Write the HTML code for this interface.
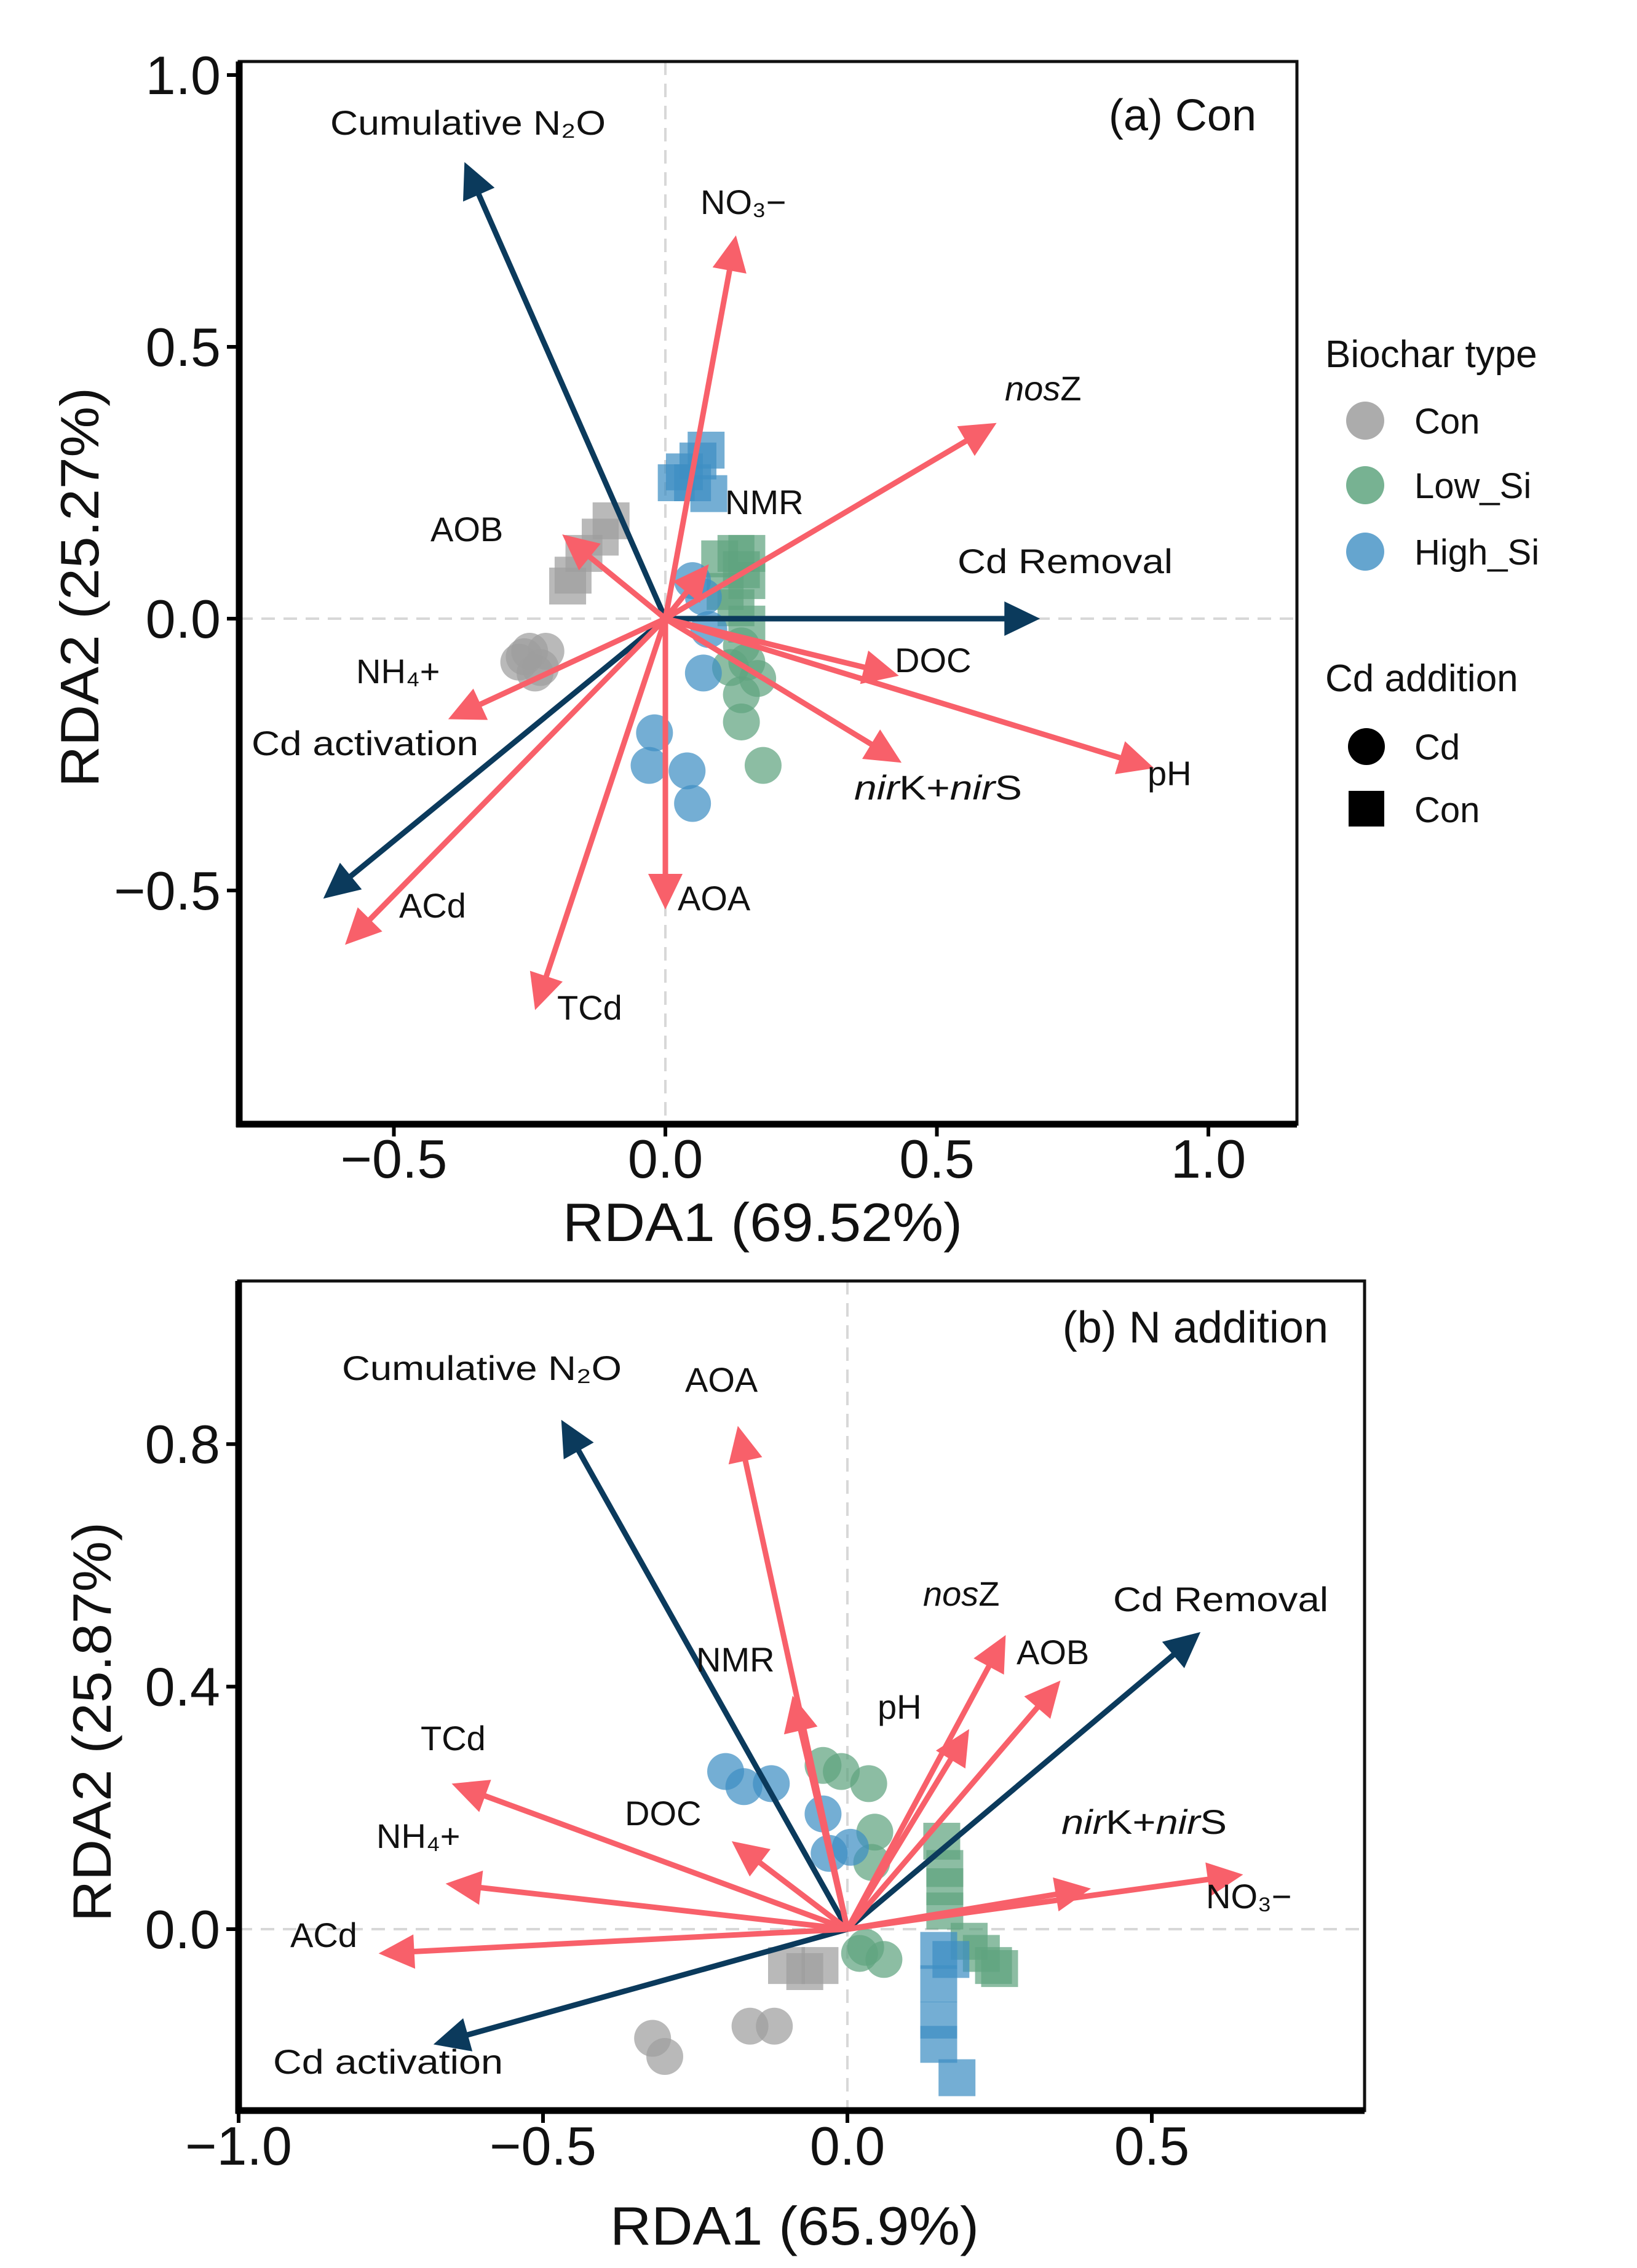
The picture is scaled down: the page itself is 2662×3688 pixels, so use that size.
<!DOCTYPE html>
<html><head><meta charset="utf-8"><style>
html,body{margin:0;padding:0;background:#fff}
svg{display:block}
text{font-family:"Liberation Sans",Arial,sans-serif;fill:#111}
</style></head><body>
<svg id="s" width="2662" height="3688" viewBox="0 0 2662 3688" xmlns="http://www.w3.org/2000/svg">
<g id="pa"></g>
<g id="pb"></g>
<g>
<text x="2155" y="597" font-size="62">Biochar type</text>
<circle cx="2220" cy="684" r="31" fill="#9e9e9e" opacity="0.85"/>
<text x="2300" y="705" font-size="58">Con</text>
<circle cx="2220" cy="789" r="31" fill="#5fa47f" opacity="0.85"/>
<text x="2300" y="810" font-size="58">Low_Si</text>
<circle cx="2220" cy="897" r="31" fill="#3f8fc3" opacity="0.8"/>
<text x="2300" y="918" font-size="58">High_Si</text>
<text x="2155" y="1124" font-size="62">Cd addition</text>
<circle cx="2222" cy="1214" r="30" fill="#000"/>
<text x="2300" y="1235" font-size="58">Cd</text>
<rect x="2193" y="1286" width="58" height="58" fill="#000"/>
<text x="2300" y="1337" font-size="58">Con</text>
</g>
</svg>
<script>
// ---- Panel A data ----
const aXTicks=[-0.5,0,0.5,1.0];
const aXTickLabels=["\u22120.5","0.0","0.5","1.0"];
const aYTicks=[1.0,0.5,0,-0.5];
const aYTickLabels=["1.0","0.5","0.0","\u22120.5"];
const aArrowNames=["Cumulative N2O","Cd Removal","Cd activation","NO3","nosZ","NMR","AOB","DOC","pH","nirK+nirS","AOA","TCd","ACd","NH4"];
const aArrowX=[-0.37,0.69,-0.63,0.13,0.61,0.08,-0.19,0.43,0.9,0.435,0,-0.24,-0.59,-0.4];
const aArrowY=[0.84,0,-0.515,0.705,0.36,0.1,0.155,-0.105,-0.275,-0.265,-0.535,-0.72,-0.6,-0.185];
const aArrowDark=[1,1,1,0,0,0,0,0,0,0,0,0,0,0];
const aGrayCircX=[-0.27,-0.25,-0.23,-0.26,-0.22,-0.24];
const aGrayCircY=[-0.08,-0.06,-0.09,-0.07,-0.06,-0.1];
const aGraySqX=[-0.1,-0.12,-0.15,-0.18,-0.17];
const aGraySqY=[0.18,0.15,0.12,0.06,0.08];
const aBlueSqX=[0.02,0.035,0.06,0.075,0.08,0.05];
const aBlueSqY=[0.25,0.27,0.29,0.31,0.23,0.25];
const aBlueCircX=[-0.02,-0.03,0.04,0.05,0.07,0.08,0.07,0.05];
const aBlueCircY=[-0.21,-0.27,-0.28,-0.34,-0.1,-0.02,0.04,0.07];
const aGreenSqX=[0.1,0.13,0.15,0.15,0.13,0.15,0.11,0.14];
const aGreenSqY=[0.11,0.12,0.12,0.07,0.02,-0.01,0.05,0.09];
const aGreenCircX=[0.14,0.15,0.17,0.14,0.14,0.18,0.12];
const aGreenCircY=[-0.05,-0.08,-0.11,-0.14,-0.19,-0.27,-0.09];
// ---- Panel B data ----
const bXTicks=[-1.0,-0.5,0,0.5];
const bXTickLabels=["\u22121.0","\u22120.5","0.0","0.5"];
const bYTicks=[0.8,0.4,0];
const bYTickLabels=["0.8","0.4","0.0"];
const bArrowNames=["Cumulative N2O","Cd Removal","Cd activation","AOA","nosZ","AOB","pH","NMR","TCd","NH4","DOC","ACd","nirK+nirS","NO3"];
const bArrowX=[-0.47,0.58,-0.68,-0.18,0.26,0.35,0.2,-0.09,-0.65,-0.66,-0.19,-0.77,0.4,0.65];
const bArrowY=[0.84,0.49,-0.19,0.83,0.485,0.41,0.33,0.385,0.24,0.075,0.145,-0.04,0.067,0.09];
const bArrowDark=[1,1,1,0,0,0,0,0,0,0,0,0,0,0];
const bBlueCircX=[-0.2,-0.17,-0.125,-0.04,-0.03,0.005];
const bBlueCircY=[0.26,0.235,0.24,0.19,0.125,0.135];
const bGreenCircX=[-0.04,-0.01,0.035,0.045,0.04,0.03,0.02,0.06];
const bGreenCircY=[0.27,0.26,0.24,0.16,0.11,-0.03,-0.04,-0.05];
const bGreenSqX=[0.155,0.16,0.16,0.16,0.2,0.22,0.24,0.25];
const bGreenSqY=[0.145,0.1,0.07,0.03,-0.02,-0.04,-0.06,-0.065];
const bBlueSqX=[0.15,0.17,0.15,0.15,0.15,0.18];
const bBlueSqY=[-0.035,-0.05,-0.09,-0.15,-0.19,-0.245];
const bGraySqX=[-0.1,-0.07,-0.045];
const bGraySqY=[-0.06,-0.07,-0.06];
const bGrayCircX=[-0.32,-0.3,-0.16,-0.12];
const bGrayCircY=[-0.18,-0.21,-0.16,-0.16];

const NS="http://www.w3.org/2000/svg";
function mk(p,tag,at){const e=document.createElementNS(NS,tag);for(const k in at)e.setAttribute(k,at[k]);p.appendChild(e);return e;}
const GRAY="#9e9e9e",GREEN="#5fa47f",BLUE="#3f8fc3",DARK="#0b3a5c",RED="#f8606a";

function panel(g,cfg){
  const sx=v=>cfg.ox+cfg.kx*v, sy=v=>cfg.oy-cfg.ky*v;
  const z1=mk(g,'line',{x1:cfg.L,x2:cfg.R,y1:sy(0),y2:sy(0),stroke:'#d8d8d8','stroke-width':4,'stroke-dasharray':'22 14'});
  
  
  const z2=mk(g,'line',{x1:sx(0),x2:sx(0),y1:cfg.T,y2:cfg.B,stroke:'#d8d8d8','stroke-width':4,'stroke-dasharray':'22 14'});
  
  
  const pts=[[cfg.sq1x,cfg.sq1y,GRAY,'sq','gray-square'],[cfg.c1x,cfg.c1y,GRAY,'c','gray-circle'],
    [cfg.sq2x,cfg.sq2y,GREEN,'sq','green-square'],[cfg.c2x,cfg.c2y,GREEN,'c','green-circle'],
    [cfg.sq3x,cfg.sq3y,BLUE,'sq','blue-square'],[cfg.c3x,cfg.c3y,BLUE,'c','blue-circle']];
  pts.forEach(([xs,ys,col,sh,nm])=>{
    xs.forEach((v,i)=>{
      let e;
      if(sh==='c') e=mk(g,'circle',{cx:sx(v),cy:sy(ys[i]),r:30,fill:col,opacity:0.72});
      else e=mk(g,'rect',{x:sx(v)-30,y:sy(ys[i])-30,width:60,height:60,fill:col,opacity:0.72});
      
      
    });
  });
  cfg.ax.forEach((v,i)=>{
    const col=cfg.dark[i]?DARK:RED;
    const x0=sx(0),y0=sy(0),x1=sx(v),y1=sy(cfg.ay[i]);
    const dx=x1-x0,dy=y1-y0,len=Math.hypot(dx,dy),ux=dx/len,uy=dy/len;
    const hl=58,hw=28;
    const bx=x1-ux*hl,by=y1-uy*hl;
    const ag=mk(g,'g',{});
    
    
    mk(ag,'line',{x1:x0,y1:y0,x2:bx+ux*4,y2:by+uy*4,stroke:col,'stroke-width':9});
    mk(ag,'polygon',{points:`${x1},${y1} ${bx-uy*hw},${by+ux*hw} ${bx+uy*hw},${by-ux*hw}`,fill:col});
  });
  const fr=mk(g,'rect',{x:cfg.L,y:cfg.T,width:cfg.R-cfg.L,height:cfg.B-cfg.T,fill:'none',stroke:'#111','stroke-width':5});
  
  
  mk(g,'line',{x1:cfg.L,x2:cfg.L,y1:cfg.T,y2:cfg.B+5,stroke:'#000','stroke-width':11});
  mk(g,'line',{x1:cfg.L-5,x2:cfg.R,y1:cfg.B,y2:cfg.B,stroke:'#000','stroke-width':11});
  cfg.xt.forEach((v,i)=>{
    mk(g,'line',{x1:sx(v),x2:sx(v),y1:cfg.B,y2:cfg.B+20,stroke:'#000','stroke-width':6});
    const t=mk(g,'text',{x:sx(v),y:cfg.xtY,'font-size':88,'text-anchor':'middle'});
    t.textContent=cfg.xtl[i];
    
    
  });
  cfg.yt.forEach((v,i)=>{
    mk(g,'line',{x1:cfg.L-20,x2:cfg.L,y1:sy(v),y2:sy(v),stroke:'#000','stroke-width':6});
    const t=mk(g,'text',{x:cfg.L-30,y:sy(v)+31,'font-size':88,'text-anchor':'end'});
    t.textContent=cfg.ytl[i];
    
    
  });
}
function lab(g,x,y,html,fs,tl,anchor,name){
  const t=mk(g,'text',{x:x,y:y,'font-size':fs});
  if(tl){t.setAttribute('textLength',tl);t.setAttribute('lengthAdjust','spacingAndGlyphs');}
  if(anchor) t.setAttribute('text-anchor',anchor);
  t.innerHTML=html;
  
  
  return t;
}
const pa=document.getElementById('pa'),pb=document.getElementById('pb');
panel(pa,{ox:1082,oy:1006,kx:883,ky:884,L:389,R:2109,T:100,B:1828,xt:aXTicks,xtl:aXTickLabels,yt:aYTicks,ytl:aYTickLabels,xtY:1915,
  names:aArrowNames,ax:aArrowX,ay:aArrowY,dark:aArrowDark,
  sq1x:aGraySqX,sq1y:aGraySqY,c1x:aGrayCircX,c1y:aGrayCircY,sq2x:aGreenSqX,sq2y:aGreenSqY,c2x:aGreenCircX,c2y:aGreenCircY,sq3x:aBlueSqX,sq3y:aBlueSqY,c3x:aBlueCircX,c3y:aBlueCircY});
panel(pb,{ox:1378,oy:3137,kx:990,ky:986,L:388,R:2219,T:2083,B:3432,xt:bXTicks,xtl:bXTickLabels,yt:bYTicks,ytl:bYTickLabels,xtY:3520,
  names:bArrowNames,ax:bArrowX,ay:bArrowY,dark:bArrowDark,
  sq1x:bGraySqX,sq1y:bGraySqY,c1x:bGrayCircX,c1y:bGrayCircY,sq2x:bGreenSqX,sq2y:bGreenSqY,c2x:bGreenCircX,c2y:bGreenCircY,sq3x:bBlueSqX,sq3y:bBlueSqY,c3x:bBlueCircX,c3y:bBlueCircY});
const FS=56;
lab(pa,2043,212,'(a) Con',72,null,'end','panel-a-title');
lab(pa,537,219,'Cumulative N₂O',FS,448,null,'label-cumulative-n2o');
lab(pa,1139,348,'NO₃−',FS,null,null,'label-no3');
lab(pa,1634,651,'<tspan font-style="italic">nos</tspan>Z',FS,null,null,'label-nosz');
lab(pa,1179,836,'NMR',FS,null,null,'label-nmr');
lab(pa,700,880,'AOB',FS,null,null,'label-aob');
lab(pa,1557,932,'Cd Removal',FS,350,null,'label-cd-removal');
lab(pa,1455,1093,'DOC',FS,null,null,'label-doc');
lab(pa,579,1111,'NH₄+',FS,null,null,'label-nh4');
lab(pa,409,1228,'Cd activation',FS,369,null,'label-cd-activation');
lab(pa,1389,1300,'<tspan font-style="italic">nir</tspan>K+<tspan font-style="italic">nir</tspan>S',FS,273,null,'label-nirk-nirs');
lab(pa,1866,1277,'pH',FS,null,null,'label-ph');
lab(pa,649,1492,'ACd',FS,null,null,'label-acd');
lab(pa,1102,1480,'AOA',FS,null,null,'label-aoa');
lab(pa,906,1658,'TCd',FS,null,null,'label-tcd');
lab(pa,1240,2018,'RDA1 (69.52%)',88,650,'middle','x-axis-title-a');
const ya=lab(pa,0,0,'RDA2 (25.27%)',88,650,'middle','y-axis-title-a');
ya.setAttribute('transform','translate(160,955) rotate(-90)');
lab(pb,2160,2183,'(b) N addition',72,null,'end','panel-b-title');
lab(pb,556,2244,'Cumulative N₂O',FS,455,null,'label-cumulative-n2o-b');
lab(pb,1114,2263,'AOA',FS,null,null,'label-aoa-b');
lab(pb,1501,2611,'<tspan font-style="italic">nos</tspan>Z',FS,null,null,'label-nosz-b');
lab(pb,1810,2620,'Cd Removal',FS,350,null,'label-cd-removal-b');
lab(pb,1653,2706,'AOB',FS,null,null,'label-aob-b');
lab(pb,1132,2718,'NMR',FS,null,null,'label-nmr-b');
lab(pb,1427,2795,'pH',FS,null,null,'label-ph-b');
lab(pb,684,2846,'TCd',FS,null,null,'label-tcd-b');
lab(pb,1016,2968,'DOC',FS,null,null,'label-doc-b');
lab(pb,612,3005,'NH₄+',FS,null,null,'label-nh4-b');
lab(pb,1726,2982,'<tspan font-style="italic">nir</tspan>K+<tspan font-style="italic">nir</tspan>S',FS,269,null,'label-nirk-nirs-b');
lab(pb,1961,3103,'NO₃−',FS,null,null,'label-no3-b');
lab(pb,472,3166,'ACd',FS,null,null,'label-acd-b');
lab(pb,444,3372,'Cd activation',FS,374,null,'label-cd-activation-b');
lab(pb,1292,3650,'RDA1 (65.9%)',88,600,'middle','x-axis-title-b');
const yb=lab(pb,0,0,'RDA2 (25.87%)',88,650,'middle','y-axis-title-b');
yb.setAttribute('transform','translate(180,2800) rotate(-90)');
</script>
</body></html>
